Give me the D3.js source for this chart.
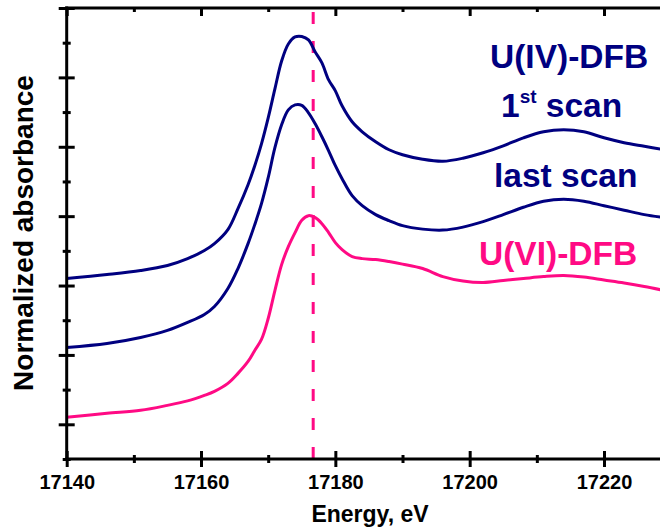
<!DOCTYPE html>
<html><head><meta charset="utf-8">
<script src="https://cdn.jsdelivr.net/npm/d3@7"></script>
<style>
html,body{margin:0;padding:0;background:#fff;}
svg text{font-family:Arial,"Liberation Sans",sans-serif;font-weight:bold;}
</style></head>
<body><svg id="c" width="660" height="530"></svg>
<script>
const energy = [17140,17146,17151,17155,17158,17160.5,17162,17164,17165.5,17167,17168,17169,17170,17171,17172,17173,17174,17175,17176,17177,17178,17179,17180,17181,17182.5,17184,17186,17188,17190,17193,17196,17199,17202,17205,17208,17211,17214,17217,17220,17223,17226,17229];
const firstScan = [2.101,2.158,2.216,2.288,2.388,2.504,2.604,2.806,3.108,3.453,3.727,4.043,4.417,4.835,5.237,5.482,5.583,5.590,5.540,5.367,5.209,4.964,4.806,4.590,4.360,4.216,4.072,3.957,3.885,3.820,3.791,3.835,3.914,4.014,4.129,4.216,4.245,4.216,4.129,4.058,4.007,3.957];
const lastScan = [1.108,1.165,1.252,1.353,1.468,1.583,1.698,1.957,2.245,2.604,2.878,3.180,3.554,3.986,4.317,4.532,4.604,4.597,4.489,4.331,4.144,3.942,3.727,3.540,3.295,3.151,3.022,2.935,2.863,2.813,2.799,2.842,2.921,3.022,3.129,3.216,3.245,3.216,3.151,3.086,3.022,2.978];
const uviDFB = [0.101,0.158,0.201,0.273,0.338,0.417,0.475,0.590,0.734,0.906,1.065,1.223,1.525,1.928,2.302,2.561,2.763,2.942,3.007,2.978,2.892,2.763,2.619,2.518,2.417,2.388,2.374,2.345,2.309,2.245,2.129,2.065,2.043,2.072,2.101,2.129,2.144,2.122,2.079,2.036,1.986,1.928];
const xMajorTicks = [17140,17160,17180,17200,17220];
const xMinorTicks = [17150,17170,17190,17210,17230];
const yMajorTicks = [0,1,2,3,4,5,6];
const yMinorTicks = [-0.5,0.5,1.5,2.5,3.5,4.5,5.5];
const refEnergy = 17176.7;

const NAVY = "#000080", PINK = "#ff0a84";
const svg = d3.select("#c");
const x = d3.scaleLinear().domain([17140,17220]).range([66.7,604]);
const y = d3.scaleLinear().domain([-0.5,6]).range([459,8]);
const X0 = 66.7, X1 = 700, Y0 = 459, Y1 = 8;

// dashed reference line
svg.append("line").attr("x1",x(refEnergy)).attr("x2",x(refEnergy))
  .attr("y1",Y1).attr("y2",Y0).attr("stroke",PINK).attr("stroke-width",3)
  .attr("stroke-dasharray","12,17").attr("stroke-dashoffset",25);

// curves
const line = d3.line().x((d,i)=>x(energy[i])).y(d=>y(d)).curve(d3.curveCatmullRom.alpha(0.5));
[[firstScan,NAVY],[lastScan,NAVY],[uviDFB,PINK]].forEach(([s,c])=>{
  svg.append("path").attr("d",line(s)).attr("fill","none").attr("stroke",c).attr("stroke-width",3);
});

function styleAxis(g){ g.select(".domain").remove(); g.selectAll("line").attr("stroke","#000").attr("stroke-width",3); }

// left axis
const gl = svg.append("g").attr("transform",`translate(${X0},0)`);
gl.append("g").call(d3.axisLeft(y).tickValues(yMajorTicks).tickSize(8).tickFormat("")).call(styleAxis)
  .selectAll("line").attr("x1",8);
gl.append("g").call(d3.axisLeft(y).tickValues(yMinorTicks).tickSize(4).tickFormat("")).call(styleAxis)
  .selectAll("line").attr("x1",4);

// bottom axis
const gb = svg.append("g").attr("transform",`translate(0,${Y0})`);
const bMaj = gb.append("g").call(d3.axisBottom(x).tickValues(xMajorTicks).tickSize(8).tickFormat(d3.format("d")));
styleAxis(bMaj);
bMaj.selectAll("line").attr("y1",-8);
bMaj.selectAll("text").attr("y",30).attr("dy",null).attr("font-size",20).attr("fill","#000");
gb.append("g").call(d3.axisBottom(x).tickValues(xMinorTicks).tickSize(4).tickFormat("")).call(styleAxis)
  .selectAll("line").attr("y1",-4);

// top axis
const gt = svg.append("g").attr("transform",`translate(0,${Y1})`);
gt.append("g").call(d3.axisTop(x).tickValues(xMajorTicks).tickSize(-8).tickFormat("")).call(styleAxis);
gt.append("g").call(d3.axisTop(x).tickValues(xMinorTicks).tickSize(-4).tickFormat("")).call(styleAxis);

// frame lines
svg.append("line").attr("x1",X0).attr("x2",X0).attr("y1",Y1-1.5).attr("y2",Y0+1.5).attr("stroke","#000").attr("stroke-width",3);
svg.append("line").attr("x1",X0-1.5).attr("x2",X1).attr("y1",Y0).attr("y2",Y0).attr("stroke","#000").attr("stroke-width",3);
svg.append("line").attr("x1",X0-1.5).attr("x2",X1).attr("y1",Y1).attr("y2",Y1).attr("stroke","#000").attr("stroke-width",3);

// axis titles
svg.append("text").attr("x",370).attr("y",522).attr("text-anchor","middle").attr("font-size",23).text("Energy, eV");
svg.append("text").attr("transform","translate(33,233) rotate(-90)").attr("text-anchor","middle").attr("font-size",28).text("Normalized absorbance");

// labels
svg.append("text").attr("x",490).attr("y",68).attr("font-size",33.5).attr("fill",NAVY).text("U(IV)-DFB");
const t1 = svg.append("text").attr("x",501).attr("y",117).attr("font-size",33.5).attr("fill",NAVY);
t1.append("tspan").text("1");
t1.append("tspan").attr("font-size",19).attr("dy",-14).text("st");
t1.append("tspan").attr("dy",14).text(" scan");
svg.append("text").attr("x",494).attr("y",187).attr("font-size",33.5).attr("fill",NAVY).text("last scan");
svg.append("text").attr("x",479).attr("y",265).attr("font-size",33.5).attr("fill",PINK).text("U(VI)-DFB");
</script></body></html>
